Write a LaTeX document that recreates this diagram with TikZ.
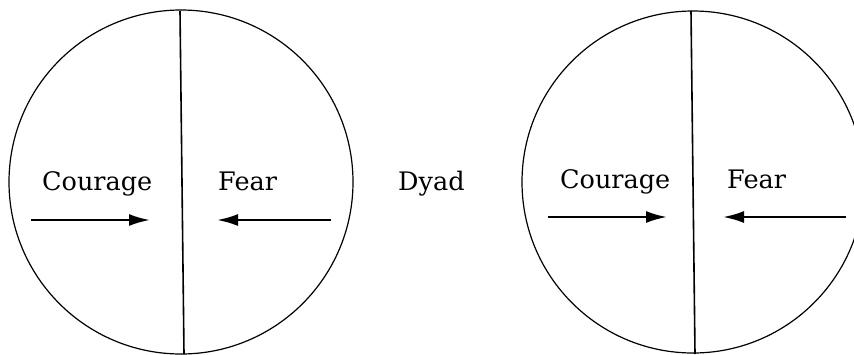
\documentclass[tikz,border=0pt]{standalone}
\usepackage{fontspec}
\setmainfont{DejaVu Serif}
\usetikzlibrary{arrows.meta}
\begin{document}
\begin{tikzpicture}[x=1pt,y=-1pt,
  ring/.style={circle,draw,line width=1.2pt,minimum size=#1,inner sep=0pt},
  divider/.style={line width=1.6pt},
  push/.style={line width=2.3pt,-{Latex[length=21pt,width=12pt]}},
  word/.style={inner sep=0pt,font=\fontsize{25.5}{30}\selectfont}]
\useasboundingbox (0,0) rectangle (854,354);
\clip (0,0) rectangle (854,354);
\fill[white] (0,0) rectangle (854,354);
% left circle
\node[ring=344pt] (L) at (181,182) {};
\coordinate (Ltop) at (180,11);
\coordinate (Lbot) at (184,354);
\draw[divider] (Ltop) -- (Lbot);
\node[word,anchor=base west] (Lc) at (42,190) {Courage};
\node[word,anchor=base west] (Lf) at (218,190) {Fear};
\coordinate (La1) at (31,220);
\coordinate (La2) at (150,220);
\coordinate (Lb1) at (331,220);
\coordinate (Lb2) at (217,220);
\draw[push] (La1) -- (La2);
\draw[push] (Lb1) -- (Lb2);
% middle label
\node[word,anchor=base west] (D) at (398,190) {Dyad};
% right circle
\node[ring=342pt] (R) at (693,182) {};
\coordinate (Rtop) at (691,11);
\coordinate (Rbot) at (695,354);
\draw[divider] (Rtop) -- (Rbot);
\node[word,anchor=base west] (Rc) at (560,188) {Courage};
\node[word,anchor=base west] (Rf) at (727,188) {Fear};
\coordinate (Ra1) at (548,217);
\coordinate (Ra2) at (667,217);
\coordinate (Rb1) at (846,217);
\coordinate (Rb2) at (723,217);
\draw[push] (Ra1) -- (Ra2);
\draw[push] (Rb1) -- (Rb2);
\end{tikzpicture}
\end{document}
